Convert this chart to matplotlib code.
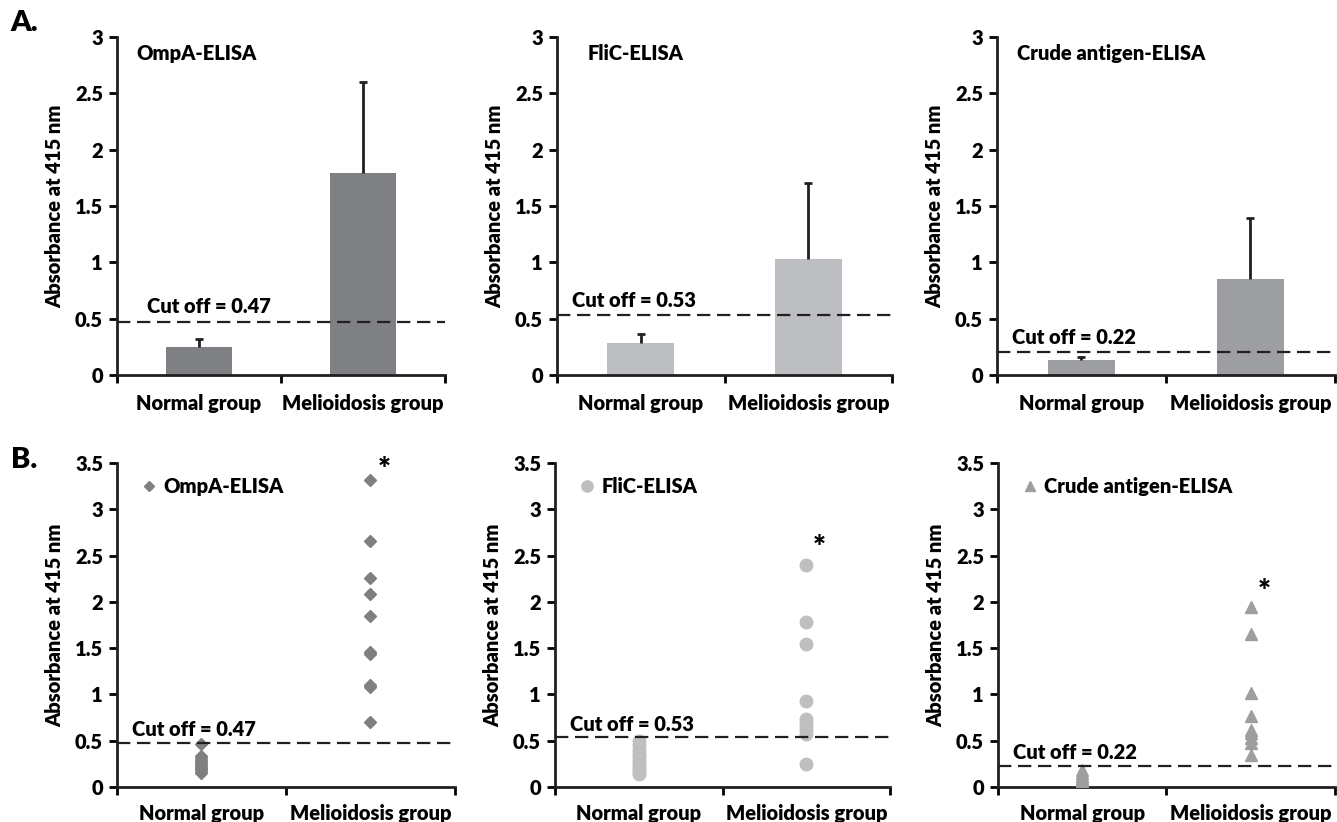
import matplotlib.pyplot as plt

plt.rcParams['font.family'] = ['Lato', 'DejaVu Sans']
plt.rcParams['font.weight'] = 'heavy'
W = 'heavy'
FS = 14.5

groups = ["Normal group", "Melioidosis group"]
assays = ["OmpA-ELISA", "FliC-ELISA", "Crude antigen-ELISA"]

# panel A: mean absorbance and upper error
bar_means = [[0.25, 1.79], [0.28, 1.03], [0.13, 0.85]]
bar_errors = [[0.07, 0.81], [0.08, 0.67], [0.03, 0.54]]
cutoff_values = [0.47, 0.53, 0.22]
cutoff_lines_a = [0.47, 0.53, 0.20]
cutoff_lines_b = [0.48, 0.535, 0.23]

# panel B: individual samples
ompa_normal = [0.46, 0.33, 0.31, 0.29, 0.27, 0.25, 0.23, 0.21, 0.19, 0.17, 0.15]
ompa_melioid = [3.32, 2.66, 2.26, 2.09, 1.85, 1.46, 1.44, 1.10, 1.08, 0.70]
flic_normal = [0.50, 0.45, 0.40, 0.36, 0.32, 0.28, 0.25, 0.22, 0.19, 0.16, 0.14]
flic_melioid = [2.40, 1.78, 1.55, 0.93, 0.73, 0.70, 0.66, 0.62, 0.57, 0.25]
crude_normal = [0.18, 0.15, 0.12, 0.10, 0.08, 0.06, 0.04]
crude_melioid = [1.94, 1.65, 1.02, 0.77, 0.62, 0.58, 0.53, 0.48, 0.35]
star_heights = [3.43, 2.58, 2.11]

bar_colors = ["#7f8083", "#bdbec1", "#9d9ea1"]
dot_colors = ["#7f7f7f", "#bfbfbf", "#9e9e9e"]
markers = ["D", "o", "^"]
marker_sizes = [6, 9, 8.5]
scatter_data = [(ompa_normal, ompa_melioid), (flic_normal, flic_melioid),
                (crude_normal, crude_melioid)]

fig = plt.figure(figsize=(13.37, 8.22), dpi=100)

top_pos = [[0.0875, 0.5438, 0.2453, 0.4112],
           [0.4166, 0.5438, 0.2506, 0.4112],
           [0.7457, 0.5438, 0.2528, 0.4112]]
bot_pos = [[0.0875, 0.0426, 0.2528, 0.394],
           [0.4151, 0.0426, 0.2506, 0.394],
           [0.7464, 0.0426, 0.2521, 0.394]]


def style_axis(ax, ymax, step):
    for s in ["top", "right"]:
        ax.spines[s].set_visible(False)
    for s in ["left", "bottom"]:
        ax.spines[s].set_linewidth(2)
        ax.spines[s].set_color("#231f20")
    ax.set_xlim(0, 2)
    ax.set_ylim(0, ymax)
    ticks = [i * step for i in range(int(round(ymax / step)) + 1)]
    ax.set_yticks(ticks)
    ax.set_yticklabels(["%g" % t for t in ticks], fontweight=W)
    ax.set_xticks([0, 1, 2])
    ax.set_xticklabels(["", "", ""])
    ax.set_xticks([0.5, 1.5], minor=True)
    ax.set_xticklabels(groups, minor=True, fontweight=W)
    ax.tick_params(axis="x", which="major", direction="out", length=6, width=2)
    ax.tick_params(axis="x", which="minor", length=0, labelsize=FS, pad=14)
    ax.tick_params(axis="y", direction="out", length=6, width=2, labelsize=FS, pad=4)
    ax.set_ylabel("Absorbance at 415 nm", fontsize=FS, fontweight=W, labelpad=8)


for i in range(3):
    ax = fig.add_axes(top_pos[i])
    style_axis(ax, 3, 0.5)
    ax.bar([0.5, 1.5], bar_means[i], width=0.4, color=bar_colors[i], zorder=2)
    _, caps, _ = ax.errorbar([0.5, 1.5], bar_means[i], yerr=[[0, 0], bar_errors[i]],
                             fmt="none", ecolor="#231f20", elinewidth=2, capsize=3,
                             capthick=2, zorder=3)
    caps[0].set_visible(False)
    ax.axhline(cutoff_lines_a[i], color="#231f20", lw=1.6, dashes=(6, 3), zorder=4)
    ax.text(0.09 if i else 0.18, cutoff_lines_a[i] + 0.05, "Cut off = %.2f" % cutoff_values[i],
            fontsize=FS, fontweight=W, va="bottom", ha="left")
    ax.text(0.12 if i != 1 else 0.18, 2.85, assays[i], fontsize=FS, fontweight=W,
            va="center", ha="left")

    ax = fig.add_axes(bot_pos[i])
    style_axis(ax, 3.5, 0.5)
    normal, melioid = scatter_data[i]
    ax.plot([0.5] * len(normal), normal, linestyle="none", marker=markers[i],
            ms=marker_sizes[i], color=dot_colors[i], zorder=3, label=assays[i])
    ax.plot([1.5] * len(melioid), melioid, linestyle="none", marker=markers[i],
            ms=marker_sizes[i], color=dot_colors[i], zorder=3)
    ax.axhline(cutoff_lines_b[i], color="#231f20", lw=1.6, dashes=(6, 3), zorder=4)
    ax.text(0.09, cutoff_lines_b[i] + 0.04, "Cut off = %.2f" % cutoff_values[i],
            fontsize=FS, fontweight=W, va="bottom", ha="left")
    ax.text(1.58, star_heights[i], "*", fontsize=22, fontweight=W,
            va="center", ha="center", clip_on=False)
    ax.tick_params(axis="x", which="minor", pad=12)
    ax.legend(loc="upper left", frameon=False, handlelength=0.8, handletextpad=0.3,
              borderaxespad=0.3, bbox_to_anchor=(0.03, 1.0), markerscale=0.9,
              prop={"weight": W, "size": FS})

fig.text(0.008, 0.972, "A.", fontsize=21, fontweight=W, va="center")
fig.text(0.008, 0.44, "B.", fontsize=21, fontweight=W, va="center")

fig.savefig("out.png", dpi=100)
